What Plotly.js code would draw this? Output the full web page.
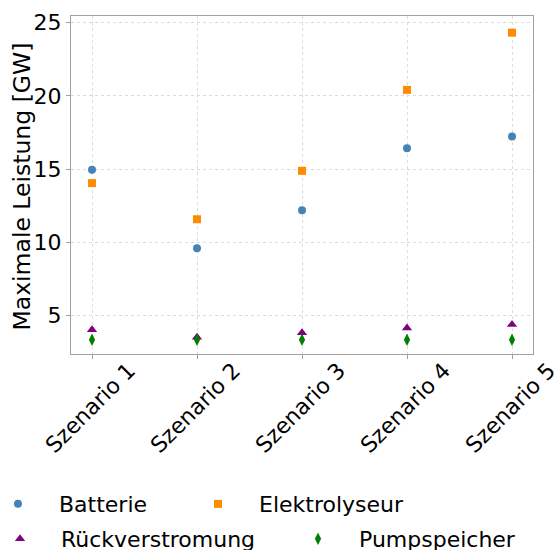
<!DOCTYPE html>
<html>
<head>
<meta charset="utf-8">
<script src="https://cdn.plot.ly/plotly-3.0.1.min.js"></script>
<style>html,body{margin:0;padding:0;background:#fff;}#chart{width:556px;height:550px;}</style>
</head>
<body>
<div id="chart"></div>
<script>
const scenarios = ["Szenario 1", "Szenario 2", "Szenario 3", "Szenario 4", "Szenario 5"];
const batterie = [14.95, 9.59, 12.19, 16.43, 17.23];
const elektrolyseur = [14.04, 11.57, 14.88, 20.41, 24.32];
const rueckverstromung = [4.02, 3.5, 3.82, 4.13, 4.38];
const pumpspeicher = [3.33, 3.34, 3.33, 3.33, 3.33];
const yTitle = "Maximale Leistung [GW]";

const FONT = "DejaVu Sans, sans-serif";
function tr(name, y, symbol, color, size, legend) {
  return {x: scenarios, y: y, name: name, type: "scatter", mode: "markers", legend: legend,
    marker: {symbol: symbol, color: color, size: size, line: {width: 0}}};
}
const data = [
  tr("Batterie", batterie, "circle", "#4682b4", 8, "legend"),
  tr("Elektrolyseur", elektrolyseur, "square", "#ff8c00", 8, "legend2"),
  tr("Rückverstromung", rueckverstromung, "triangle-up", "#800080", 9, "legend3"),
  tr("Pumpspeicher", pumpspeicher, "diamond-tall", "#008000", 9, "legend4")
];
const gridStyle = {
  showline: true, linecolor: "#a0a0a0", linewidth: 1, mirror: true,
  ticks: "outside", ticklen: 4, tickcolor: "#a0a0a0",
  showgrid: true, gridcolor: "#dcdcdc", griddash: "dot", gridwidth: 1,
  zeroline: false, automargin: false
};
function leg(x, y) {
  return {orientation: "h", x: x, xanchor: "left", y: y, yanchor: "middle",
    font: {size: 22}, itemwidth: 72, bgcolor: "rgba(0,0,0,0)"};
}
const layout = {
  width: 556, height: 550,
  margin: {l: 71, r: 23, t: 16, b: 196, autoexpand: false},
  paper_bgcolor: "#fff", plot_bgcolor: "#fff",
  font: {family: FONT, color: "#000", size: 22},
  showlegend: true,
  xaxis: Object.assign({
    type: "category", range: [-0.2, 4.2],
    tickangle: -45, ticklabelshift: 37, ticklabelstandoff: -10,
    tickfont: {size: 22}
  }, gridStyle),
  yaxis: Object.assign({
    range: [2.36, 25.46],
    tickvals: [5, 10, 15, 20, 25],
    tickfont: {size: 22}
  }, gridStyle),
  annotations: [{
    text: yTitle, xref: "paper", yref: "paper", x: -0.106, y: 0.4956,
    xanchor: "center", yanchor: "middle", textangle: -90, showarrow: false,
    font: {size: 23.5, family: FONT, color: "#000"}
  }],
  legend: leg(-0.2035, -0.444),
  legend2: leg(0.2294, -0.444),
  legend3: leg(-0.1991, -0.5474),
  legend4: leg(0.4459, -0.5474)
};
Plotly.newPlot("chart", data, layout, {displayModeBar: false, staticPlot: true});
</script>
</body>
</html>
